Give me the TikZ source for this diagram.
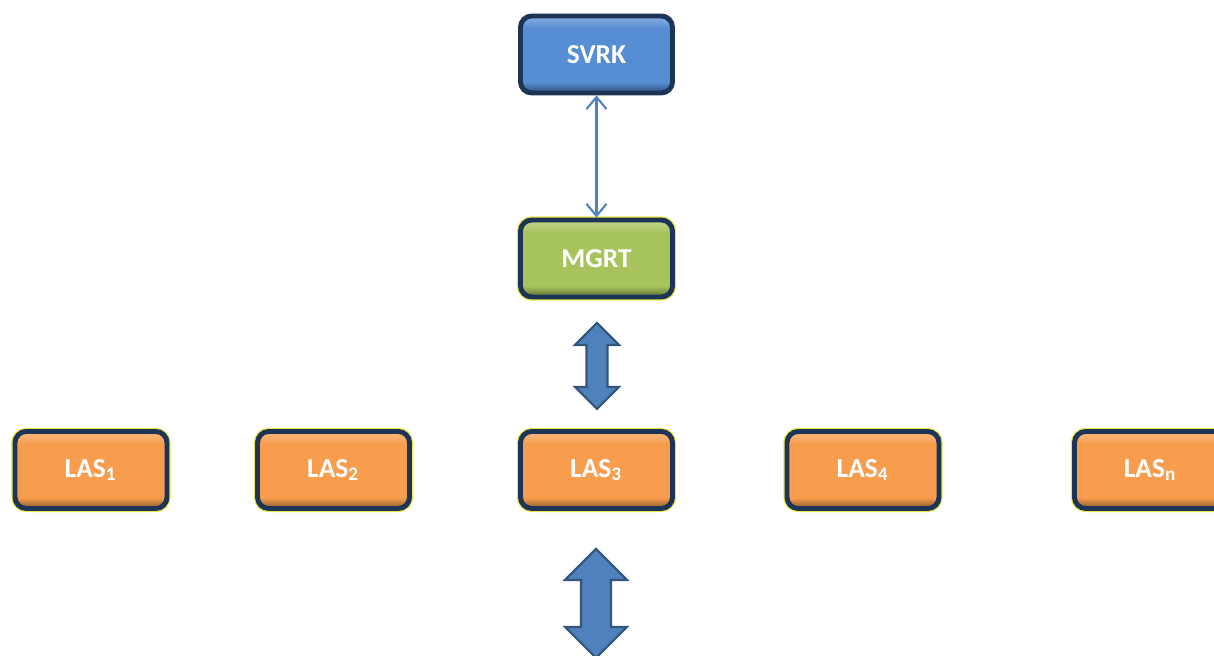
\documentclass[tikz,border=0pt]{standalone}
\usepackage{fontspec}
\setmainfont{Carlito}
\usetikzlibrary{arrows.meta, positioning, calc}
\definecolor{navycolor}{RGB}{30,52,86}
\definecolor{svrkcolor}{RGB}{86,141,211}
\definecolor{mgrtcolor}{RGB}{166,195,92}
\definecolor{lascolor}{RGB}{248,157,77}
\definecolor{arrowcolor}{RGB}{79,129,189}
\definecolor{glowcolor}{RGB}{232,232,70}
\colorlet{svrklight}{svrkcolor!80!white}
\colorlet{svrkdark}{svrkcolor!55!black}
\colorlet{mgrtlight}{mgrtcolor!80!white}
\colorlet{mgrtdark}{mgrtcolor!55!black}
\colorlet{laslight}{lascolor!80!white}
\colorlet{lasdark}{lascolor!55!black}
\pgfdeclareverticalshading{svrkshade}{100bp}{color(0bp)=(svrkdark); color(25bp)=(svrkdark);
  color(32bp)=(svrkcolor); color(67bp)=(svrkcolor); color(72bp)=(svrklight); color(100bp)=(svrklight)}
\pgfdeclareverticalshading{mgrtshade}{100bp}{color(0bp)=(mgrtdark); color(25bp)=(mgrtdark);
  color(32bp)=(mgrtcolor); color(67bp)=(mgrtcolor); color(72bp)=(mgrtlight); color(100bp)=(mgrtlight)}
\pgfdeclareverticalshading{lasshade}{100bp}{color(0bp)=(lasdark); color(25bp)=(lasdark);
  color(32bp)=(lascolor); color(67bp)=(lascolor); color(72bp)=(laslight); color(100bp)=(laslight)}
\tikzset{
  unit/.style     = {draw=navycolor, line width=1.4pt, rounded corners=3.2pt,
                     minimum width=1.52cm, minimum height=0.77cm, inner sep=0pt,
                     font=\fontsize{7.8}{9}\selectfont\bfseries, text=white},
  glow/.style     = {preaction={draw=glowcolor, line width=2.1pt}},
  svrkbox/.style  = {unit, shading=svrkshade},
  mgrtbox/.style  = {unit, glow, shading=mgrtshade},
  lasbox/.style   = {unit, glow, shading=lasshade},
  link/.style     = {{Straight Barb[length=1.2mm, width=2mm]}-{Straight Barb[length=1.2mm, width=2mm]},
                     line width=0.6pt, color=arrowcolor},
  blockarrow/.style = {fill=arrowcolor, draw=arrowcolor!65!black, line width=0.6pt, line join=miter},
}

\begin{document}
\begin{tikzpicture}
  \useasboundingbox (0,0) rectangle (12.14,6.56);
  \clip (0,0) rectangle (12.14,6.56);

  % control nodes
  \node[svrkbox] (svrk) at (5.965, 6.015) {SVRK};
  \node[mgrtbox] (mgrt) at (5.965, 3.975) {MGRT};

  % local nodes
  \foreach \i/\x in {1/0.91, 2/3.335, 3/5.965, 4/8.63, n/11.505} {
    \node[lasbox] (las\i) at (\x, 1.86) {LAS\textsubscript{\i}};
  }

  % links
  \draw[link] (svrk.south) -- (mgrt.north);

  % block arrows
  \foreach \name/\x/\y/\hw/\sw/\hl/\sl in {up/5.97/3.33/0.22/0.105/0.22/0.42,
                                            down/5.96/1.07/0.31/0.15/0.31/0.47} {
    \coordinate (\name) at (\x, \y);
    \draw[blockarrow] (\name) -- ++(\hw,-\hl) -- ++(\sw-\hw,0) -- ++(0,-\sl)
      -- ++(\hw-\sw,0) -- ++(-\hw,-\hl) -- ++(-\hw,\hl) -- ++(\hw-\sw,0)
      -- ++(0,\sl) -- ++(\sw-\hw,0) -- cycle;
  }
\end{tikzpicture}
\end{document}
